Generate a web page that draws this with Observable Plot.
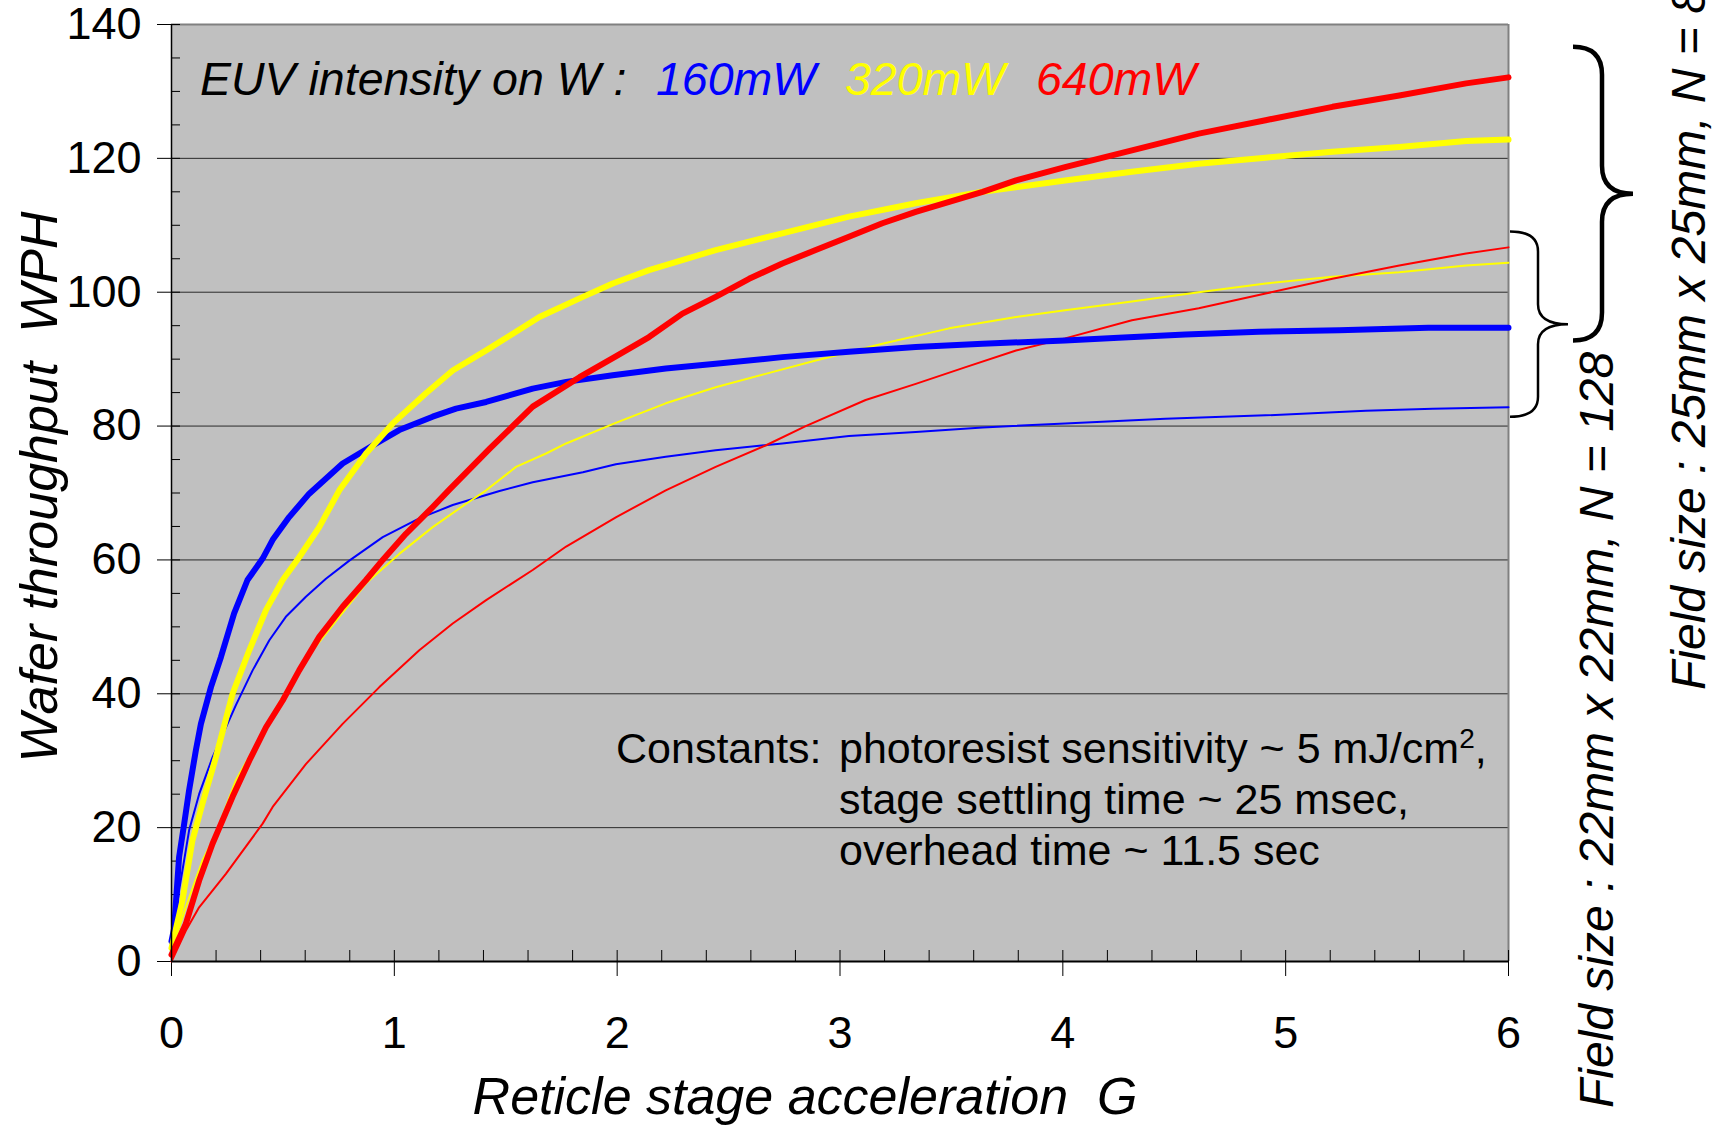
<!DOCTYPE html>
<html><head><meta charset="utf-8">
<script src="https://cdn.jsdelivr.net/npm/d3@7"></script>
<script src="https://cdn.jsdelivr.net/npm/@observablehq/plot@0.6"></script>
<style>
html,body{margin:0;padding:0;background:#fff;overflow:hidden;}
#chart{width:1726px;height:1126px;overflow:hidden;}
</style></head><body><div id="chart"></div>
<script>
// ---------- data ----------
// 25mm x 25mm field (thick lines)
const thickBlueX = [0, 0.012, 0.034, 0.057, 0.079, 0.109, 0.132, 0.177, 0.222, 0.281, 0.341, 0.409, 0.454, 0.528, 0.618, 0.768, 0.903, 1.022, 1.172, 1.277, 1.412, 1.621, 1.771, 1.98, 2.218, 2.442, 2.741, 3.04, 3.34, 3.64, 4.01, 4.25, 4.55, 4.88, 5.24, 5.64, 6.0];
const thickBlueY = [3, 5, 15.6, 20.6, 25.6, 31.5, 35.5, 41, 45.5, 52, 57, 60.2, 63, 66.4, 69.9, 74.4, 77.1, 79.4, 81.4, 82.6, 83.6, 85.6, 86.6, 87.6, 88.6, 89.3, 90.3, 91.1, 91.8, 92.3, 92.8, 93.2, 93.7, 94.1, 94.3, 94.7, 94.7];
const thickYellowX = [0, 0.049, 0.094, 0.139, 0.199, 0.274, 0.349, 0.424, 0.499, 0.573, 0.663, 0.753, 0.873, 0.993, 1.142, 1.262, 1.412, 1.546, 1.651, 1.846, 1.98, 2.143, 2.442, 2.741, 3.04, 3.34, 3.64, 4.01, 4.31, 4.61, 4.91, 5.21, 5.51, 5.81, 6.0];
const thickYellowY = [2, 9.1, 18.1, 23.6, 30.5, 40, 46.5, 52.5, 57, 60.4, 64.9, 70.4, 75.9, 80.4, 84.9, 88.3, 91.3, 94.1, 96.3, 99.3, 101.3, 103.3, 106.3, 108.8, 111.3, 113.3, 115, 116.7, 118, 119.2, 120.1, 121, 121.7, 122.6, 122.8];
const thickRedX = [0, 0.064, 0.124, 0.184, 0.274, 0.349, 0.424, 0.499, 0.573, 0.663, 0.768, 0.873, 0.948, 1.052, 1.172, 1.247, 1.427, 1.621, 1.831, 1.994, 2.143, 2.293, 2.442, 2.592, 2.741, 2.891, 3.04, 3.19, 3.34, 3.49, 3.64, 3.79, 4.01, 4.31, 4.61, 4.91, 5.21, 5.51, 5.81, 6.0];
const thickRedY = [1, 5.6, 12.1, 17.6, 24.6, 30, 35, 39, 43.5, 48.5, 53, 57, 60, 63.9, 67.9, 70.5, 76.6, 82.9, 87.3, 90.4, 93.3, 96.8, 99.3, 102, 104.3, 106.3, 108.3, 110.3, 112, 113.5, 115, 116.7, 118.7, 121.2, 123.7, 125.7, 127.7, 129.4, 131.2, 132.1];
// 22mm x 22mm field (thin lines)
const thinBlueX = [0, 0.034, 0.079, 0.124, 0.184, 0.289, 0.364, 0.439, 0.513, 0.603, 0.693, 0.798, 0.948, 1.112, 1.262, 1.472, 1.621, 1.846, 1.994, 2.218, 2.442, 2.741, 3.04, 3.34, 3.64, 4.01, 4.46, 4.91, 5.36, 5.66, 6.0];
const thinBlueY = [2, 10.6, 19.6, 25, 30.5, 38.3, 43.5, 48, 51.5, 54.5, 57.2, 59.9, 63.4, 66.2, 68.2, 70.3, 71.6, 73.1, 74.3, 75.4, 76.4, 77.4, 78.5, 79.1, 79.8, 80.4, 81.1, 81.6, 82.3, 82.6, 82.8];
const thinYellowX = [0, 0.064, 0.139, 0.199, 0.289, 0.364, 0.454, 0.543, 0.633, 0.753, 0.873, 1.022, 1.172, 1.322, 1.412, 1.546, 1.681, 1.771, 1.988, 2.218, 2.442, 2.666, 2.891, 3.19, 3.49, 3.79, 4.01, 4.31, 4.61, 4.91, 5.21, 5.51, 5.81, 6.0];
const thinYellowY = [1.5, 8.1, 15.1, 19.1, 27.1, 31.5, 37, 42, 46.5, 51.5, 56.5, 60.9, 64.9, 68.4, 70.4, 73.9, 75.9, 77.4, 80.4, 83.4, 85.8, 87.8, 89.8, 92.3, 94.6, 96.3, 97.3, 98.6, 100, 101.3, 102.3, 103, 104, 104.4];
const thinRedX = [0, 0.064, 0.124, 0.244, 0.409, 0.454, 0.603, 0.768, 0.933, 1.112, 1.262, 1.412, 1.621, 1.771, 1.996, 2.218, 2.442, 2.666, 2.846, 3.115, 3.34, 3.564, 3.79, 4.01, 4.31, 4.61, 4.91, 5.21, 5.51, 5.81, 6.0];
const thinRedY = [0, 4.6, 8.1, 13.1, 20.6, 23.1, 29.5, 35.5, 41, 46.5, 50.5, 54, 58.5, 62, 66.4, 70.4, 73.9, 77.1, 80, 83.9, 86.3, 88.8, 91.3, 93.1, 95.8, 97.6, 99.8, 102, 104, 105.8, 106.7];

const yMajorTicks = [0, 20, 40, 60, 80, 100, 120, 140];
const yGridLines = [20, 40, 60, 80, 100, 120];
const yMinorTicks = d3.range(0, 141, 5);
const xMajorTicks = [0, 1, 2, 3, 4, 5, 6];
const xMinorTicks = d3.range(0, 31).map(i => i / 5);

const legendLabels = ["160mW", "320mW", "640mW"];
const legendColors = ["#0000ff", "#ffff00", "#ff0000"];
const bigBraceY = [136.6, 92.7];   // thick-line group
const smallBraceY = [109, 81.3];   // thin-line group

// ---------- build rows ----------
const series = [
  {name: "thin160", x: thinBlueX, y: thinBlueY, color: legendColors[0], w: 2},
  {name: "thin320", x: thinYellowX, y: thinYellowY, color: legendColors[1], w: 2},
  {name: "thin640", x: thinRedX, y: thinRedY, color: legendColors[2], w: 2},
  {name: "thick160", x: thickBlueX, y: thickBlueY, color: legendColors[0], w: 6},
  {name: "thick320", x: thickYellowX, y: thickYellowY, color: legendColors[1], w: 6},
  {name: "thick640", x: thickRedX, y: thickRedY, color: legendColors[2], w: 6}
];
const lineMarks = series.map(s =>
  Plot.line(s.x.map((x, i) => ({x, y: s.y[i]})), {x: "x", y: "y", stroke: s.color, strokeWidth: s.w, strokeLinejoin: "round"})
);

const FONT = "'Liberation Sans', Arial, Helvetica, sans-serif";
const noText = () => "";

const chart = Plot.plot({
  width: 1726, height: 1126,
  marginLeft: 171, marginRight: 218, marginTop: 24, marginBottom: 165,
  style: {fontFamily: FONT, fontSize: "45px", color: "#000", background: "#fff", overflow: "visible"},
  x: {domain: [0, 6], label: null},
  y: {domain: [0, 140], label: null},
  marks: [
    Plot.frame({fill: "#c0c0c0", stroke: null}),
    Plot.ruleY(yGridLines, {stroke: "#2a2a2a", strokeWidth: 1}),
    Plot.ruleY([140], {stroke: "#808080", strokeWidth: 2}),
    Plot.ruleX([6], {stroke: "#808080", strokeWidth: 2}),
    Plot.axisY(yMinorTicks, {anchor: "left", tickSize: 9, dx: 9, tickFormat: noText, label: null, stroke: "#000"}),
    Plot.axisX(xMinorTicks, {anchor: "bottom", tickSize: 11, dy: -11, tickFormat: noText, label: null, stroke: "#000"}),
    Plot.axisY(yMajorTicks, {anchor: "left", tickSize: 14, tickPadding: 16, fontSize: 45, label: null, stroke: "#000", tickFormat: d3.format("d")}),
    Plot.axisX(xMajorTicks, {anchor: "bottom", tickSize: 15, tickPadding: 40, fontSize: 45, label: null, stroke: "#000", tickFormat: d3.format("d")}),
    ...lineMarks,
    Plot.ruleX([0], {stroke: "#000", strokeWidth: 1.5}),
    Plot.ruleY([0], {stroke: "#000", strokeWidth: 2})
  ]
});
document.getElementById("chart").appendChild(chart);

// ---------- annotations ----------
const svg = d3.select(chart);
const sx = chart.scale("x"), sy = chart.scale("y");
const right = sx.apply(6);
const g = svg.append("g").attr("font-family", FONT).attr("fill", "#000").attr("text-anchor", "start");

// legend-like title inside the plot
const t = g.append("text").attr("x", 200).attr("y", 95).attr("font-size", 46.5).attr("font-style", "italic");
t.append("tspan").text("EUV intensity on W :");
const legendX = [656, 845, 1036];
legendLabels.forEach((lab, i) => t.append("tspan").attr("x", legendX[i]).attr("fill", legendColors[i]).text(lab));

// constants box
const c = g.append("text").attr("font-size", 43);
c.append("tspan").attr("x", 616).attr("y", 763).text("Constants:");
c.append("tspan").attr("x", 839).attr("y", 763).text("photoresist sensitivity ~ 5 mJ/cm");
c.append("tspan").attr("dy", -15).attr("font-size", 28).text("2");
c.append("tspan").attr("dy", 15).text(",");
c.append("tspan").attr("x", 839).attr("y", 814).text("stage settling time ~ 25 msec,");
c.append("tspan").attr("x", 839).attr("y", 865).text("overhead time ~ 11.5 sec");

// axis titles
g.append("text").attr("x", 805).attr("y", 1114).attr("text-anchor", "middle")
  .attr("font-size", 52).attr("font-style", "italic")
  .style("white-space", "pre").text("Reticle stage acceleration  G");
g.append("text").attr("transform", "translate(57,487) rotate(-90)").attr("text-anchor", "middle")
  .attr("font-size", 52).attr("font-style", "italic")
  .style("white-space", "pre").text("Wafer throughput  WPH");

// right-side rotated labels
g.append("text").attr("transform", "translate(1613,1108) rotate(-90)")
  .attr("font-size", 48).attr("font-style", "italic").text("Field size : 22mm x 22mm, N = 128");
g.append("text").attr("transform", "translate(1705,690) rotate(-90)")
  .attr("font-size", 48).attr("font-style", "italic").text("Field size : 25mm x 25mm, N = 88");

// braces
function brace(x0, xv, xt, yTop, yBot, r) {
  const ym = (yTop + yBot) / 2;
  return `M${x0},${yTop} Q${xv},${yTop} ${xv},${yTop + r} L${xv},${ym - r} Q${xv},${ym} ${xt},${ym} ` +
         `Q${xv},${ym} ${xv},${ym + r} L${xv},${yBot - r} Q${xv},${yBot} ${x0},${yBot}`;
}
g.append("path").attr("d", brace(right + 65, right + 94, right + 125, sy.apply(bigBraceY[0]), sy.apply(bigBraceY[1]), 28))
  .attr("fill", "none").attr("stroke", "#000").attr("stroke-width", 4.5);
g.append("path").attr("d", brace(right + 2, right + 30, right + 60, sy.apply(smallBraceY[0]), sy.apply(smallBraceY[1]), 20))
  .attr("fill", "none").attr("stroke", "#000").attr("stroke-width", 2.5);
</script>
</body></html>
